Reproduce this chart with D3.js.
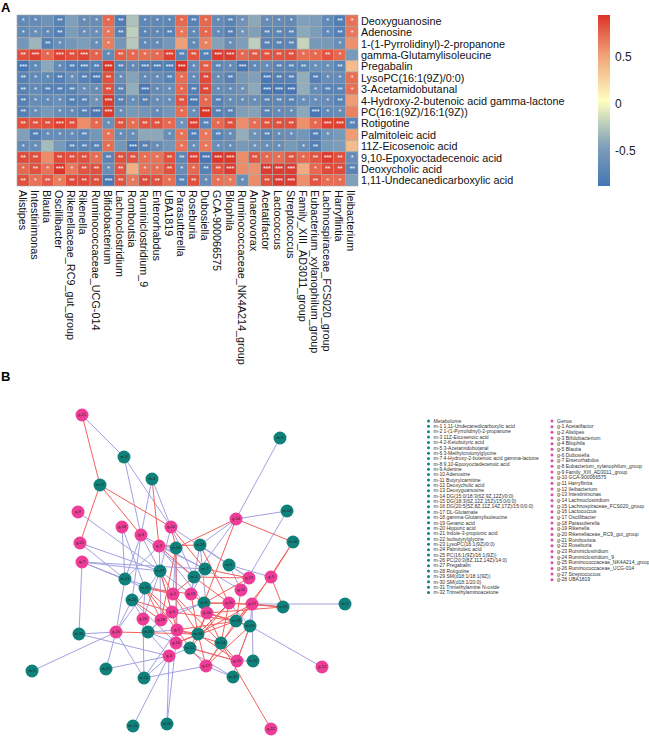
<!DOCTYPE html>
<html>
<head>
<meta charset="utf-8">
<title>Heatmap and network</title>
<script src="https://cdnjs.cloudflare.com/ajax/libs/d3/7.8.5/d3.min.js"></script>
<style>
    html, body { margin: 0; padding: 0; background: #fff; }
    svg { display: block; }
    text { font-family: "Liberation Sans", Arial, sans-serif; }
</style>
</head>
<body>
<div id="chart"></div>
<script>
var genera = ["Alistipes", "Intestinimonas", "Blautia", "Oscillibacter", "Rikenellaceae_RC9_gut_group", "Rikenella",
    "Ruminococcaceae_UCG-014", "Bifidobacterium", "Lachnoclostridium", "Romboutsia", "Ruminiclostridium_9", "Enterorhabdus",
    "UBA1819", "Parasutterella", "Roseburia", "Dubosiella", "GCA-900066575", "Bilophila", "Ruminococcaceae_NK4A214_group",
    "Anaerovorax", "Acetatifactor", "Lactococcus", "Streptococcus", "Family_XIII_AD3011_group",
    "Eubacterium_xylanophilum_group", "Lachnospiraceae_FCS020_group", "Harryflintia", "Ileibacterium"];

var metabolites = ["Deoxyguanosine", "Adenosine", "1-(1-Pyrrolidinyl)-2-propanone", "gamma-Glutamylisoleucine", "Pregabalin",
    "LysoPC(16:1(9Z)/0:0)", "3-Acetamidobutanal", "4-Hydroxy-2-butenoic acid gamma-lactone", "PC(16:1(9Z)/16:1(9Z))",
    "Rotigotine", "Palmitoleic acid", "11Z-Eicosenoic acid", "9,10-Epoxyoctadecenoic acid", "Deoxycholic acid",
    "1,11-Undecanedicarboxylic acid"];

// Correlation per metabolite (rows)
var corr = [
    [-.72,-.7,-.62,-.8,-.5,-.68,-.68,.72,-.86,-.32,-.75,-.74,-.74,.72,-.8,.72,-.7,-.78,-.62,-.45,-.68,-.7,-.72,-.5,-.52,-.72,-.84,.68],
    [-.72,-.66,-.7,-.82,-.52,-.66,-.66,.66,-.8,-.25,-.76,-.74,-.8,.66,-.72,.72,-.7,-.82,-.6,-.5,-.78,-.76,-.76,-.45,-.52,-.7,-.82,.66],
    [-.58,-.38,-.8,-.66,-.58,-.52,-.66,.64,-.58,-.28,-.72,-.7,-.58,.5,-.7,.62,-.48,-.66,-.52,-.25,-.78,-.78,-.76,-.22,-.56,-.55,-.66,.56],
    [.82,.88,.72,.88,.82,.86,.74,-.7,.76,.72,.7,.72,.88,-.78,.8,-.8,.9,.9,.72,.78,.8,.8,.82,.7,.72,.8,.72,-.55],
    [-.95,-.72,-.45,-.7,-.82,-.86,-.8,.92,-.8,-.7,-.86,-.86,-.86,.95,-.7,.76,-.76,-.7,-.92,-.72,-.68,-.78,-.78,-.76,-.66,-.66,-.76,.36],
    [-.8,-.7,-.72,-.82,-.66,-.8,-.9,.82,-.68,-.48,-.72,-.7,-.78,.7,-.7,.84,-.68,-.8,-.55,-.5,-.9,-.82,-.8,-.42,-.82,-.68,-.7,.7],
    [-.8,-.7,-.8,-.82,-.78,-.66,-.68,.82,-.78,-.42,-.9,-.7,-.66,.72,-.82,.84,-.68,-.7,-.62,-.45,-.92,-.92,-.92,-.42,-.68,-.78,-.78,.7],
    [-.82,-.68,-.7,-.66,-.8,-.78,-.62,.9,-.8,-.66,-.8,-.68,-.66,.8,-.88,.72,-.8,-.68,-.66,-.66,-.78,-.76,-.78,-.66,-.66,-.68,-.78,.52],
    [-.82,-.66,-.55,-.66,-.68,-.8,-.9,.9,-.66,-.55,-.6,-.7,-.58,.7,-.66,.92,-.8,-.78,-.5,-.48,-.78,-.7,-.68,-.45,-.9,-.7,-.68,.62],
    [.82,.8,.82,.88,.82,.58,.72,-.66,.8,.7,.8,.8,.72,-.62,.88,-.78,.72,.82,.58,.7,.8,.82,.82,.56,.72,.88,.88,-.78],
    [-.5,-.82,-.68,-.68,-.68,-.76,-.58,.68,-.68,-.66,-.45,-.45,-.66,.68,-.82,.66,-.78,-.68,-.42,-.62,-.78,-.68,-.66,-.58,-.82,-.62,-.55,.52],
    [-.7,-.66,-.35,-.55,-.78,-.78,-.78,.7,-.58,-.9,-.8,-.68,-.58,.68,-.66,.66,-.66,-.68,-.55,-.62,-.66,-.66,-.55,-.66,-.82,-.55,-.52,.36],
    [.84,.82,.58,.84,.82,.82,.7,-.78,.82,.8,.7,.68,.82,-.76,.88,-.9,.92,.92,.58,.8,.72,.7,.8,.72,.8,.9,.82,-.68],
    [.72,.82,.68,.92,.66,.8,.82,-.66,.8,.42,.68,.7,.82,-.68,.72,-.8,.8,.9,.58,.56,.9,.9,.9,.45,.72,.84,.84,-.78],
    [.82,.68,.78,.64,.84,.84,.82,-.9,.8,.66,.84,.82,.7,-.8,.82,-.68,.68,.66,-.66,.58,.82,.9,.9,.56,.8,.7,.7,-.5]
];

// Number of significance stars per cell
var stars = [
    [1,1,0,2,0,1,1,1,2,0,1,1,1,1,2,1,1,2,1,0,1,1,1,0,0,1,2,1],
    [1,1,1,2,0,1,1,1,2,0,1,1,2,1,1,1,1,2,1,0,2,2,2,0,0,1,2,1],
    [0,0,2,1,0,0,1,1,0,0,1,1,0,0,1,1,0,1,0,0,2,2,2,0,0,0,1,0],
    [2,3,1,3,2,3,1,1,2,1,1,1,3,2,2,2,3,3,1,2,2,2,2,1,1,2,1,0],
    [3,1,0,1,2,3,2,3,2,1,3,3,3,3,1,2,2,1,3,1,1,2,2,2,1,1,2,0],
    [2,1,1,2,1,2,3,2,1,0,1,1,2,1,1,2,1,2,0,0,3,2,2,0,2,1,1,1],
    [2,1,2,2,2,1,1,2,2,0,3,1,1,1,2,2,1,1,1,0,3,3,3,0,1,2,2,1],
    [2,1,1,1,2,2,1,3,2,1,2,1,1,2,3,1,2,1,1,1,2,2,2,1,1,1,2,0],
    [2,1,0,1,1,2,3,3,1,0,0,1,0,1,1,3,2,2,0,0,2,1,1,0,3,1,1,0],
    [2,2,2,3,2,0,1,1,2,1,2,2,1,1,3,2,1,2,0,1,2,2,2,0,1,3,3,2],
    [0,2,1,1,1,2,0,1,1,1,0,0,1,1,2,1,2,1,0,1,2,1,1,0,2,1,0,0],
    [1,1,0,0,2,2,2,1,0,3,2,1,0,1,1,1,1,1,0,1,1,1,0,1,2,0,0,0],
    [2,2,0,2,2,2,1,2,2,2,1,1,2,2,3,3,3,3,0,2,1,1,2,1,2,3,2,1],
    [1,2,1,3,1,2,2,1,2,0,1,1,2,1,1,2,2,3,0,0,3,3,3,0,1,2,2,2],
    [2,1,2,1,2,2,2,3,2,1,2,2,1,2,2,1,1,1,1,0,2,3,3,0,2,1,1,0]
];

var colorTicks = [0.5, 0, -0.5];
var colorStops = [0.93, 0.5, 0, -0.5, -0.93];
var colorRamp = ["#dc3329", "#f0a078", "#ffffbf", "#7f9fba", "#4575b4"];

// Network layout as it appears in panel B, in panel units (0-390 wide, 0-360 high)
var metaNodes = ["m-1","m-2","m-3","m-4","m-5","m-6","m-7","m-8","m-9","m-10","m-11","m-12","m-13","m-14","m-15","m-16",
    "m-17","m-18","m-19","m-20","m-21","m-22","m-23","m-24","m-25","m-26","m-27","m-28","m-29","m-30","m-31","m-32"];
var metaX = [194,345,124,152,32,229,205,204,280,253,133,190,287,221,145,176,100,198,250,167,125,106,148,200,144,132,160,236,283,293,79,233];
var metaY = [197,224,77,99,291,185,189,223,58,281,346,268,131,263,208,168,105,254,246,344,199,289,252,165,298,220,191,241,227,162,254,297];

var genusNodes = ["g-1","g-2","g-3","g-4","g-5","g-6","g-7","g-8","g-9","g-10","g-11","g-12","g-13","g-14","g-15","g-16",
    "g-17","g-18","g-19","g-20","g-21","g-22","g-23","g-24","g-25","g-26","g-27","g-28"];
var genusX = [177,173,159,169,271,172,82,141,78,176,241,322,191,236,237,207,206,122,143,229,82,271,249,171,80,116,252,161];
var genusY = [250,214,166,276,197,232,182,155,132,263,210,287,214,139,281,233,286,147,239,223,35,349,198,147,163,252,224,240];

var negativeEdges = [
    ["g-21","m-3"],["g-8","m-3"],["g-24","m-3"],["g-8","m-4"],["g-24","m-4"],["g-9","m-27"],["g-18","m-15"],["g-18","m-21"],
    ["g-25","m-27"],["g-25","m-21"],["g-14","m-9"],["g-14","m-13"],["g-14","m-24"],["g-14","m-1"],["g-11","m-13"],
    ["g-27","m-2"],["g-12","m-19"],["g-7","m-31"],["g-26","m-31"],["g-26","m-5"],["g-26","m-22"],["g-4","m-22"],["g-26","m-25"],
    ["g-4","m-25"],["g-17","m-25"],["g-4","m-23"],["g-4","m-11"],["g-4","m-20"],["g-10","m-20"],["g-4","m-31"],["g-7","m-21"],
    ["g-7","m-7"],["g-7","m-27"],["g-7","m-15"],["g-26","m-21"],["g-26","m-26"],["g-19","m-23"],["g-19","m-15"],
    ["g-27","m-10"],["g-15","m-10"],["g-15","m-19"],["g-27","m-29"],["g-17","m-32"],["g-15","m-32"],["g-10","m-32"],
    ["g-3","m-27"],["g-8","m-27"],["g-24","m-27"],["g-28","m-27"],["g-19","m-27"],["g-13","m-27"],["g-8","m-1"],["g-24","m-1"],
    ["g-13","m-1"],["g-13","m-7"],["g-8","m-7"],["g-13","m-24"],["g-16","m-24"],["g-23","m-6"],["g-24","m-6"],["g-3","m-7"],
    ["g-2","m-16"],["g-3","m-8"],["g-28","m-8"],["g-6","m-8"],["g-8","m-26"],["g-19","m-26"],["g-8","m-21"],["g-3","m-21"],
    ["g-27","m-19"],["g-20","m-19"],["g-16","m-19"],["g-28","m-23"],["g-6","m-23"],["g-19","m-25"],["g-1","m-25"],["g-4","m-12"],
    ["g-5","m-6"],["g-1","m-16"],["g-3","m-16"],["g-26","m-27"],["g-6","m-27"],["g-23","m-24"],["g-11","m-6"],["g-11","m-7"],
    ["g-1","m-23"],["g-10","m-23"],["g-15","m-12"],["g-10","m-26"],["g-2","m-21"]
];

var positiveEdges = [
    ["g-21","m-17"],["g-25","m-17"],["g-8","m-17"],["g-24","m-17"],["g-3","m-4"],["g-14","m-30"],["g-14","m-16"],["g-14","m-8"],
    ["g-27","m-30"],["g-5","m-30"],["g-5","m-29"],["g-5","m-28"],["g-22","m-14"],["g-26","m-18"],["g-23","m-1"],["g-23","m-7"],
    ["g-27","m-18"],["g-27","m-8"],["g-20","m-8"],["g-16","m-14"],["g-1","m-14"],["g-17","m-14"],["g-15","m-14"],["g-2","m-14"],
    ["g-20","m-14"],["g-16","m-28"],["g-17","m-28"],["g-1","m-28"],["g-27","m-28"],["g-10","m-28"],["g-6","m-28"],["g-20","m-18"],
    ["g-16","m-18"],["g-1","m-18"],["g-10","m-18"],["g-17","m-18"],["g-15","m-18"],["g-2","m-18"],["g-1","m-12"],["g-16","m-12"],
    ["g-20","m-12"],["g-17","m-12"],["g-15","m-12"],["g-2","m-15"],["g-13","m-15"],["g-6","m-15"],["g-1","m-15"],["g-28","m-15"],
    ["g-28","m-26"],["g-6","m-26"],["g-2","m-27"],["g-1","m-27"],["g-2","m-1"],["g-3","m-1"],["g-24","m-7"],["g-10","m-16"],
    ["g-28","m-16"],["g-24","m-16"],["g-3","m-24"],["g-20","m-24"],["g-27","m-14"],["g-16","m-29"],["g-27","m-29"],["g-20","m-29"],
    ["g-16","m-19"],["g-15","m-19"],["g-17","m-19"],["g-13","m-18"],["g-13","m-8"],["g-23","m-8"],["g-11","m-28"],["g-20","m-1"]
];

var metaNames = ["1,11-Undecanedicarboxylic acid", "1-(1-Pyrrolidinyl)-2-propanone", "11Z-Eicosenoic acid", "2-Ketobutyric acid",
    "3-Acetamidobutanal", "3-Methylcrotonylglycine", "4-Hydroxy-2-butenoic acid gamma-lactone", "9,10-Epoxyoctadecenoic acid",
    "Adenine", "Adenosine", "Butyrylcarnitine", "Deoxycholic acid", "Deoxyguanosine", "DG(15:0/18:3(6Z,9Z,12Z)/0:0)",
    "DG(18:3(6Z,12Z,15Z)/15:0/0:0)", "DG(20:5(5Z,8Z,11Z,14Z,17Z)/15:0/0:0)", "DL-Glutamate", "gamma-Glutamylisoleucine",
    "Geranic acid", "Hippuric acid", "Indole-3-propionic acid", "Isobutyrylglycine", "LysoPC(16:1(9Z)/0:0)", "Palmitoleic acid",
    "PC(16:1(9Z)/16:1(9Z))", "PC(20:3(8Z,11Z,14Z)/14:0)", "Pregabalin", "Rotigotine", "SM(d18:1/18:1(9Z))", "SM(d18:1/20:0)",
    "Trimethylamine N-oxide", "Trimethylaminoacetone"];

var genusNames = ["Acetatifactor", "Alistipes", "Bifidobacterium", "Bilophila", "Blautia", "Dubosiella", "Enterorhabdus",
    "Eubacterium_xylanophilum_group", "Family_XIII_AD3011_group", "GCA-900066575", "Harryflintia", "Ileibacterium",
    "Intestinimonas", "Lachnoclostridium", "Lachnospiraceae_FCS020_group", "Lactococcus", "Oscillibacter", "Parasutterella",
    "Rikenella", "Rikenellaceae_RC9_gut_group", "Romboutsia", "Roseburia", "Ruminiclostridium", "Ruminiclostridium_9",
    "Ruminococcaceae_NK4A214_group", "Ruminococcaceae_UCG-014", "Streptococcus", "UBA1819"];

var TEAL = "#10807a", PINK = "#ee3d97", BLUE_EDGE = "#a3a1e0", RED_EDGE = "#f4605c";

var svg = d3.select("#chart").append("svg").attr("width", 649).attr("height", 740);

svg.append("text").attr("x", 1).attr("y", 12).attr("font-size", 13).attr("font-weight", "bold").text("A");
svg.append("text").attr("x", 1).attr("y", 381).attr("font-size", 13).attr("font-weight", "bold").text("B");

// ---- Panel A: heatmap ----
var x = d3.scaleBand().domain(genera).range([17, 358]);
var y = d3.scaleBand().domain(metabolites).range([15, 186]);
var color = d3.scaleLinear().domain(colorStops).range(colorRamp).clamp(true);

var heat = svg.append("g");
metabolites.forEach(function(m, r) {
    genera.forEach(function(g, c) {
        heat.append("rect")
            .attr("x", x(g)).attr("y", y(m))
            .attr("width", x.bandwidth()).attr("height", y.bandwidth())
            .attr("fill", color(corr[r][c]))
            .attr("stroke", "#a8a8a8").attr("stroke-width", 0.6);
        if (stars[r][c] > 0) {
            heat.append("text")
                .attr("x", x(g) + x.bandwidth() / 2).attr("y", y(m) + y.bandwidth() / 2 + 2.5)
                .attr("text-anchor", "middle").attr("font-size", 7.5).attr("fill", "#f4f4f4")
                .attr("letter-spacing", -0.4)
                .text("*".repeat(stars[r][c]));
        }
    });
});

heat.selectAll("text.row").data(metabolites).enter().append("text")
    .attr("class", "row")
    .attr("x", 361).attr("y", function(d) { return y(d) + y.bandwidth() / 2 + 4; })
    .attr("font-size", 10.8).attr("fill", "#111")
    .text(function(d) { return d; });

heat.selectAll("text.col").data(genera).enter().append("text")
    .attr("class", "col")
    .attr("transform", function(d) { return "translate(" + (x(d) + x.bandwidth() / 2 - 4.5) + ",190) rotate(90)"; })
    .attr("font-size", 10.8).attr("fill", "#111")
    .text(function(d) { return d; });

// Colour bar
var barY = d3.scaleLinear().domain([0.947, -0.872]).range([15, 186]);
var grad = svg.append("defs").append("linearGradient").attr("id", "bar")
    .attr("x1", 0).attr("x2", 0).attr("y1", 0).attr("y2", 1);
grad.selectAll("stop").data(colorStops).enter().append("stop")
    .attr("offset", function(d) { return (0.93 - d) / 1.86; })
    .attr("stop-color", function(d) { return color(d); });
svg.append("rect").attr("x", 598).attr("y", 15).attr("width", 12).attr("height", 171).attr("fill", "url(#bar)");

var barAxis = svg.append("g").attr("transform", "translate(610,0)")
    .call(d3.axisRight(barY).tickValues(colorTicks).tickSize(0).tickPadding(5).tickFormat(String));
barAxis.select(".domain").remove();
barAxis.selectAll("text").attr("font-size", 12).attr("fill", "#222").style("font-family", "Liberation Sans");

// ---- Panel B: network ----
var nodeX = d3.scaleLinear().domain([0, 390]).range([0, 390]);
var nodeY = d3.scaleLinear().domain([0, 360]).range([380, 740]);

var nodes = {};
metaNodes.forEach(function(n, i) { nodes[n] = { id: n, x: metaX[i], y: metaY[i], fill: TEAL }; });
genusNodes.forEach(function(n, i) { nodes[n] = { id: n, x: genusX[i], y: genusY[i], fill: PINK }; });

var net = svg.append("g");

function drawEdges(list, stroke) {
    net.append("g").selectAll("line").data(list).enter().append("line")
        .attr("x1", function(d) { return nodeX(nodes[d[0]].x); })
        .attr("y1", function(d) { return nodeY(nodes[d[0]].y); })
        .attr("x2", function(d) { return nodeX(nodes[d[1]].x); })
        .attr("y2", function(d) { return nodeY(nodes[d[1]].y); })
        .attr("stroke", stroke).attr("stroke-width", 1);
}
drawEdges(negativeEdges, BLUE_EDGE);
drawEdges(positiveEdges, RED_EDGE);

var nodeList = Object.keys(nodes).map(function(k) { return nodes[k]; });
var nodeG = net.append("g").selectAll("g").data(nodeList).enter().append("g")
    .attr("transform", function(d) { return "translate(" + nodeX(d.x) + "," + nodeY(d.y) + ")"; });
nodeG.append("circle").attr("r", 6.5).attr("fill", function(d) { return d.fill; });
nodeG.append("text").attr("y", 1.4).attr("text-anchor", "middle").attr("font-size", 4).attr("fill", "#222")
    .text(function(d) { return d.id; });

// ---- Panel B: legends ----
function drawLegend(title, ids, names, dotX, startY, step, fill) {
    var rows = [title].concat(ids.map(function(id, i) { return id + " " + names[i]; }));
    var legendY = d3.scaleLinear().domain([0, rows.length - 1]).range([startY, startY + step * (rows.length - 1)]);
    var g = svg.append("g").selectAll("g").data(rows).enter().append("g")
        .attr("transform", function(d, i) { return "translate(" + dotX + "," + legendY(i) + ")"; });
    g.append("circle").attr("r", 1.5).attr("fill", fill);
    g.append("text").attr("x", 5).attr("y", 1.7).attr("font-size", 5.05).attr("fill", "#333")
        .text(function(d) { return d; });
}
drawLegend("Metabolome", metaNodes, metaNames, 428.5, 421, 5.36, TEAL);
drawLegend("Genus", genusNodes, genusNames, 552, 421, 5.67, "#d84fb0");
</script>
</body>
</html>
